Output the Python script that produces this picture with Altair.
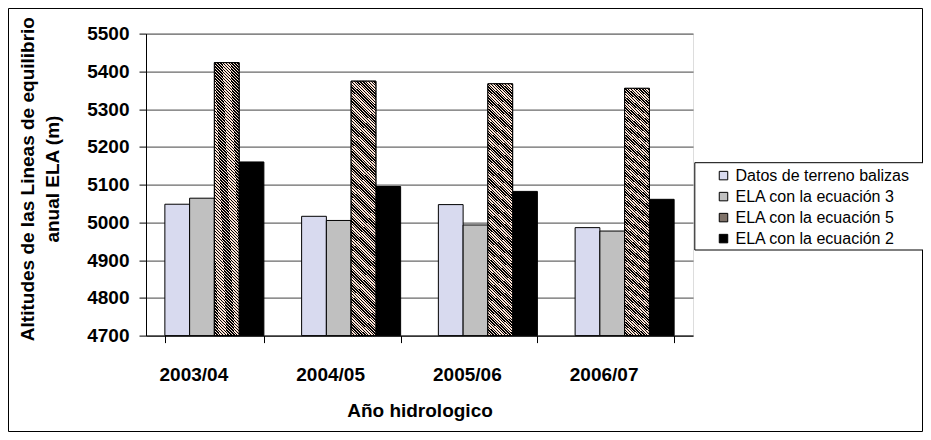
import altair as alt
import pandas as pd

# ---- data ----
years = ["2003/04", "2004/05", "2005/06", "2006/07"]
series = [
    "Datos de terreno balizas",
    "ELA con la ecuación 3",
    "ELA con la ecuación 5",
    "ELA con la ecuación 2",
]
balizas = [5048, 5016, 5047, 4986]
ecuacion3 = [5064, 5005, 4993, 4977]
ecuacion5 = [5423, 5374, 5367, 5355]
ecuacion2 = [5160, 5095, 5082, 5061]
y_ticks = [4700, 4800, 4900, 5000, 5100, 5200, 5300, 5400, 5500]

rows = []
for name, vals in zip(series, [balizas, ecuacion3, ecuacion5, ecuacion2]):
    for yr, v in zip(years, vals):
        rows.append({"year": yr, "series": name, "value": v})
df = pd.DataFrame(rows)

colors = ["#d8daef", "#c0c0c0", "#7f7269", "#000000"]
FONT = "Liberation Sans"

# diagonal hatch fill (black / pale peach stripes) as a hard-stop gradient
r = 10.4
s = (1 + r) / (1 + r * r)
N = 100
stops = []
for i in range(N):
    a, m, b = i / N, (i + 0.5) / N, (i + 1) / N
    stops += [
        {"offset": a, "color": "#000000"},
        {"offset": m, "color": "#000000"},
        {"offset": m, "color": "#fde3d5"},
        {"offset": b, "color": "#fde3d5"},
    ]
hatch = {"gradient": "linear", "x1": 0, "y1": 1, "x2": s, "y2": 1 - s * r, "stops": stops}

x_axis = alt.Axis(
    title="Año hidrologico",
    labelAngle=0,
    labelFont=FONT,
    labelFontSize=19,
    labelFontWeight="bold",
    labelColor="black",
    labelPadding=23,
    labelOffset=-21,
    tickBand="extent",
    tickSize=7,
    tickColor="black",
    domainColor="black",
    titleFont=FONT,
    titleFontSize=19,
    titleFontWeight="bold",
    titleColor="black",
    titleBaseline="top",
    titleY=66,
)
y_axis = alt.Axis(
    values=y_ticks,
    format="d",
    labelOverlap=False,
    title=["Altitudes de las Lineas de equilibrio", "anual ELA (m)"],
    labelFont=FONT,
    labelFontSize=19,
    labelFontWeight="bold",
    labelColor="black",
    labelPadding=10,
    tickSize=7,
    tickColor="black",
    domainColor="black",
    grid=True,
    gridColor="#444444",
    gridWidth=1,
    titleFont=FONT,
    titleFontSize=19,
    titleFontWeight="bold",
    titleColor="black",
    titleAngle=270,
    titleAlign="center",
    titleBaseline="middle",
    titleLineHeight=25,
    titleX=-119,
    titleY=145,
)
x_scale = alt.Scale(paddingInner=0.276, paddingOuter=0.138)
y_scale = alt.Scale(domain=[y_ticks[0], y_ticks[-1]], zero=False, nice=False)
off_scale = alt.Scale(domain=series, paddingInner=0, paddingOuter=0)


def enc_x():
    return alt.X("year:N", sort=years, scale=x_scale, axis=x_axis)


def enc_y():
    return alt.Y("value:Q", scale=y_scale, axis=y_axis)


def enc_off():
    return alt.XOffset("series:N", sort=series, scale=off_scale)


bars = alt.Chart(df).mark_bar(stroke="black", strokeWidth=1).encode(
    x=enc_x(),
    xOffset=enc_off(),
    y=enc_y(),
    y2=alt.datum(y_ticks[0]),
    color=alt.Color(
        "series:N",
        sort=series,
        scale=alt.Scale(domain=series, range=colors),
        legend=alt.Legend(
            title=None,
            orient="none",
            legendX=569.5,
            legendY=134,
            padding=0,
            symbolType="square",
            symbolSize=72,
            symbolStrokeColor="black",
            symbolStrokeWidth=1,
            labelFont=FONT,
            labelFontSize=16,
            labelColor="black",
            labelOffset=4,
            labelLimit=400,
            rowPadding=5,
        ),
    ),
)

hatched = alt.Chart(df).transform_filter(
    alt.datum.series == series[2]
).mark_bar(stroke="black", strokeWidth=1).encode(
    x=enc_x(),
    xOffset=enc_off(),
    y=enc_y(),
    y2=alt.datum(y_ticks[0]),
    fill=alt.value(hatch),
)

frame = alt.Chart(pd.DataFrame({"k": [1]})).mark_rect(
    fillOpacity=0, stroke="black", strokeWidth=1
).encode(
    x=alt.value(-137.5), x2=alt.value(776.5), y=alt.value(-25.1), y2=alt.value(397.9)
)

legend_box = alt.Chart(pd.DataFrame({"k": [1]})).mark_rect(
    fill="white", stroke="black", strokeWidth=1
).encode(
    x=alt.value(548.8), x2=alt.value(790), y=alt.value(129.1), y2=alt.value(216.4)
)

chart = alt.layer(bars, hatched, frame, legend_box).properties(
    width=547,
    height=302,
    autosize=alt.AutoSizeParams(type="none"),
    padding={"left": 138, "top": 25.6, "right": 230, "bottom": 96.4},
).configure_view(stroke=None).configure(font=FONT, background="white")

chart.save("out.html", embed_options={"renderer": "svg", "actions": False})
